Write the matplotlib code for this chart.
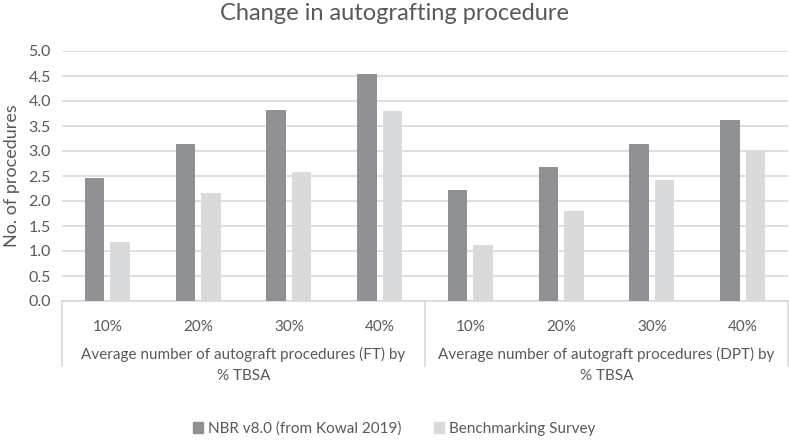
import matplotlib
matplotlib.use("Agg")
import matplotlib.pyplot as plt
import matplotlib.transforms as mtransforms
from matplotlib.lines import Line2D
from matplotlib.patches import Patch
import numpy as np

categories = ["10%", "20%", "30%", "40%", "10%", "20%", "30%", "40%"]
groups = ["Average number of autograft procedures (FT) by\n% TBSA",
          "Average number of autograft procedures (DPT) by\n% TBSA"]
nbr = [2.45, 3.13, 3.82, 4.53, 2.22, 2.68, 3.14, 3.62]
bench = [1.19, 2.16, 2.58, 3.80, 1.13, 1.81, 2.42, 2.99]
series_names = ["NBR v8.0 (from Kowal 2019)", "Benchmarking Survey"]
yticks = [0.0, 0.5, 1.0, 1.5, 2.0, 2.5, 3.0, 3.5, 4.0, 4.5, 5.0]

plt.rcParams['font.family'] = ['Lato', 'DejaVu Sans']
txt = "#595959"
dark = "#909194"
light = "#d9dadb"
grid = "#d9d9d9"

fig = plt.figure(figsize=(7.89, 4.40), dpi=100)
ax = fig.add_axes([62/789, 1-301/440, (788-62)/789, 250/440])

x = np.arange(len(categories))
w = 0.215
off = 0.14
ax.bar(x - off, nbr, w, color=dark, zorder=3, label=series_names[0])
ax.bar(x + off, bench, w, color=light, zorder=3, label=series_names[1])

ax.set_xlim(-0.5, len(categories) - 0.5)
ax.set_ylim(0, 5)
ax.set_yticks(yticks)
ax.set_yticklabels([f"{v:.1f}" for v in yticks], color=txt, fontsize=11.5)
ax.yaxis.grid(True, color=grid, linewidth=1.2, zorder=0)
ax.tick_params(axis='y', length=0, pad=8)
ax.tick_params(axis='x', length=0, pad=14)
ax.set_xticks(x)
ax.set_xticklabels(categories, color=txt, fontsize=11)
for s in ["top", "right", "left"]:
    ax.spines[s].set_visible(False)
ax.spines["bottom"].set_color(grid)
ax.spines["bottom"].set_linewidth(1.2)

ax.set_ylabel("No. of procedures", color=txt, fontsize=13, labelpad=6)

trans = mtransforms.blended_transform_factory(ax.transData, fig.transFigure)
for xv in [-0.5, 3.5, 7.5]:
    ax.add_line(Line2D([xv, xv], [1-301/440, 1-366/440], transform=trans,
                       color=grid, linewidth=1.2, clip_on=False))
for gi, g in enumerate(groups):
    cx = gi * 4 + 1.5
    fig.text(cx, 1-347/440, g, transform=trans, ha='center', va='top',
             color=txt, fontsize=11, linespacing=1.6)

fig.text(0.5, 1-13/440, "Change in autografting procedure", ha='center', va='center',
         color=txt, fontsize=17)

handles = [Patch(color=dark), Patch(color=light)]
fig.legend(handles, series_names, loc='center', bbox_to_anchor=(394/789, 1-429/440),
           ncol=2, frameon=False, fontsize=11, labelcolor=txt,
           handlelength=0.7, handleheight=0.7, handletextpad=0.3, columnspacing=2.1)

fig.savefig("out.png", dpi=100)
